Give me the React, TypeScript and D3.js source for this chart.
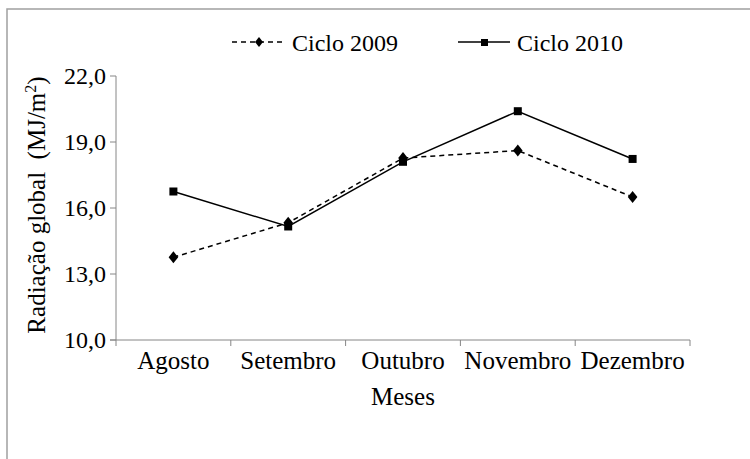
import React from "react";
import * as d3 from "d3";

const months = ["Agosto", "Setembro", "Outubro", "Novembro", "Dezembro"];
const ciclo2009 = [13.76, 15.33, 18.27, 18.61, 16.5];
const ciclo2010 = [16.75, 15.16, 18.1, 20.4, 18.23];
const yTicks = [10, 13, 16, 19, 22];
const seriesNames = ["Ciclo 2009", "Ciclo 2010"];

const W = 750;
const H = 459;
const FONT = "Liberation Serif";
const FS = 24;

export default function App() {
  const x = d3.scaleBand<string>().domain(months).range([116, 690]);
  const y = d3.scaleLinear().domain([10, 22]).range([340, 76]);
  const cx = (m: string) => (x(m) as number) + x.bandwidth() / 2;
  const line = d3
    .line<number>()
    .x((_, i) => cx(months[i]))
    .y((d) => y(d));
  const fmt = (v: number) => v.toFixed(1).replace(".", ",");
  const axisColor = "#868686";
  const diamond = (px: number, py: number, r: number) =>
    `M${px},${py - r}L${px + r * 0.8},${py}L${px},${py + r}L${px - r * 0.8},${py}Z`;

  const xTickPos = [...months.map((m) => x(m) as number), 690];
  const ts: React.CSSProperties = { fontFamily: FONT, fontSize: FS };
  const tl: React.CSSProperties = { fontFamily: FONT, fontSize: 25 };

  return (
    <svg width={W} height={H} style={{ display: "block", position: "absolute", left: 0, top: 0 }}>
      <rect x={0} y={0} width={W} height={H} fill="#fff" />
      <rect x={7} y={9} width={W + 20} height={H + 20} fill="none" stroke="#a0a0a0" strokeWidth={1.5} />

      {/* y axis */}
      <line x1={116} x2={116} y1={y(22)} y2={y(10)} stroke={axisColor} strokeWidth={1} />
      {yTicks.map((t) => (
        <g key={t}>
          <line x1={110} x2={116} y1={y(t)} y2={y(t)} stroke={axisColor} />
          <text x={106} y={y(t)} dy="0.35em" textAnchor="end" style={ts} fill="#000">
            {fmt(t)}
          </text>
        </g>
      ))}
      {/* x axis */}
      <line x1={110} x2={690} y1={y(10)} y2={y(10)} stroke={axisColor} strokeWidth={1} />
      {xTickPos.map((p, i) => (
        <line key={i} x1={p} x2={p} y1={y(10)} y2={y(10) + 6} stroke={axisColor} />
      ))}
      {months.map((m) => (
        <text key={m} x={cx(m)} y={369} textAnchor="middle" style={tl} fill="#000">
          {m}
        </text>
      ))}
      <text x={403} y={405} textAnchor="middle" style={tl} fill="#000">
        Meses
      </text>
      <text
        transform={`translate(45, ${205}) rotate(-90)`}
        textAnchor="middle"
        style={tl}
        fill="#000"
      >
        Radiação global{"\u00a0\u00a0"}(MJ/m<tspan dy={-9} style={{ fontSize: 16 }}>2</tspan>
        <tspan dy={9}>)</tspan>
      </text>

      {/* series */}
      <path d={line(ciclo2009) || ""} fill="none" stroke="#000" strokeWidth={1.5} strokeDasharray="5,4" />
      <path d={line(ciclo2010) || ""} fill="none" stroke="#000" strokeWidth={1.5} />
      {ciclo2009.map((v, i) => (
        <path key={"a" + i} d={diamond(cx(months[i]), y(v), 6)} fill="#000" />
      ))}
      {ciclo2010.map((v, i) => (
        <rect key={"b" + i} x={cx(months[i]) - 4} y={y(v) - 4} width={8} height={8} fill="#000" />
      ))}

      {/* legend */}
      <line x1={232} x2={282} y1={42} y2={42} stroke="#000" strokeWidth={1.5} strokeDasharray="5,4" />
      <path d={diamond(259, 42, 5)} fill="#000" />
      <text x={292} y={51} style={ts} fill="#000">{seriesNames[0]}</text>
      <line x1={458} x2={510} y1={42} y2={42} stroke="#000" strokeWidth={1.5} />
      <rect x={481} y={39} width={7} height={7} fill="#000" />
      <text x={517} y={51} style={ts} fill="#000">{seriesNames[1]}</text>
    </svg>
  );
}
